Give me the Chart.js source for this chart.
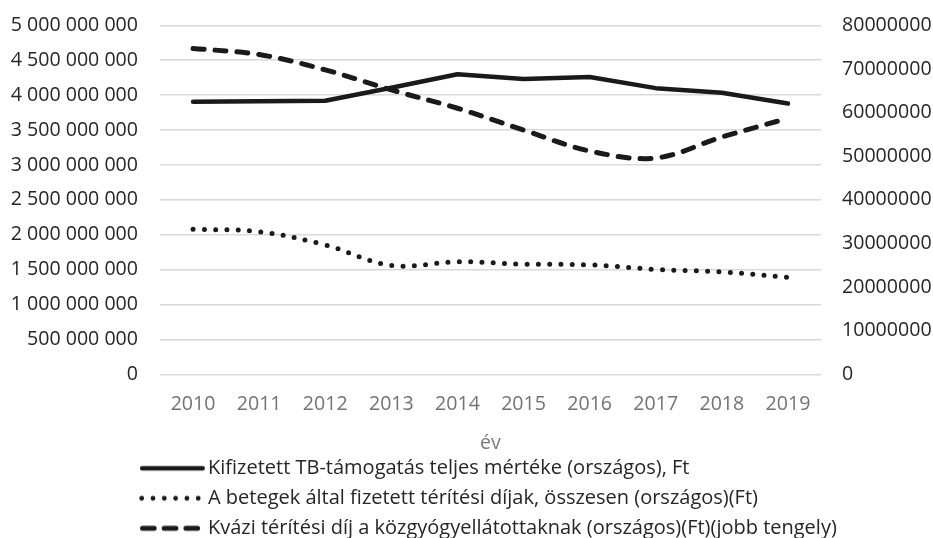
<!DOCTYPE html>
<html>
<head>
<meta charset="utf-8">
<script src="https://cdn.jsdelivr.net/npm/chart.js@4/dist/chart.umd.min.js"></script>
<style>
  html, body { margin: 0; padding: 0; background: #ffffff; }
  #wrap { width: 933px; height: 538px; }
</style>
</head>
<body>
<div id="wrap"><canvas id="c" width="933" height="538"></canvas></div>
<script>
// ---- data ----
const years = ['2010','2011','2012','2013','2014','2015','2016','2017','2018','2019'];
const tbSupport = [3.906e9, 3.912e9, 3.92e9, 4.105e9, 4.30e9, 4.23e9, 4.26e9, 4.10e9, 4.035e9, 3.88e9];
const patientFees = [2.08e9, 2.045e9, 1.855e9, 1.56e9, 1.615e9, 1.58e9, 1.57e9, 1.505e9, 1.47e9, 1.39e9];
const quasiFees = [74.7e6, 73.3e6, 69.8e6, 65.2e6, 61.0e6, 56.0e6, 51.2e6, 49.6e6, 54.4e6, 58.7e6];
const seriesNames = [
  'Kifizetett TB-támogatás teljes mértéke (országos), Ft',
  'A betegek által fizetett térítési díjak, összesen (országos)(Ft)',
  'Kvázi térítési díj a közgyógyellátottaknak (országos)(Ft)(jobb tengely)'
];
const leftTickLabels = ['0','500 000 000','1 000 000 000','1 500 000 000','2 000 000 000','2 500 000 000','3 000 000 000','3 500 000 000','4 000 000 000','4 500 000 000','5 000 000 000'];
const rightTickLabels = ['0','10000000','20000000','30000000','40000000','50000000','60000000','70000000','80000000'];
const xAxisTitle = 'év';

const FONT = "'Open Sans', 'DejaVu Sans', sans-serif";
const FS = 19.6;
const LFS = 20;
const INK = '#1a1a1a';

// legend line samples (small canvases used as legend point styles)
function sample(kind) {
  const c = document.createElement('canvas');
  c.width = 72; c.height = 10;
  const g = c.getContext('2d');
  g.strokeStyle = INK; g.fillStyle = INK; g.lineCap = 'round';
  if (kind === 'solid') {
    g.lineWidth = 4.5;
    g.beginPath(); g.moveTo(9.2, 5); g.lineTo(69.7, 5); g.stroke();
  } else if (kind === 'dot') {
    for (let i = 0; i < 6; i++) {
      g.beginPath(); g.arc(8.7 + i * 11.3, 5, 2.4, 0, Math.PI * 2); g.fill();
    }
  } else {
    g.lineWidth = 5;
    for (let i = 0; i < 3; i++) {
      g.beginPath(); g.moveTo(9.5 + i * 21.7, 5); g.lineTo(21.2 + i * 21.7, 5); g.stroke();
    }
  }
  return c;
}
const legendSamples = [sample('solid'), sample('dot'), sample('dash')];

const legendShift = {
  id: 'legendShift',
  afterLayout(chart) {
    const lg = chart.legend;
    if (lg) { lg.left = 130; lg.top = 448.3; }
  }
};

function noPad(s) { s.paddingTop = 0; s.paddingBottom = 0; }

new Chart(document.getElementById('c'), {
  type: 'line',
  data: {
    labels: years,
    datasets: [
      {
        label: seriesNames[0], data: tbSupport, yAxisID: 'y',
        borderColor: INK, backgroundColor: INK, borderWidth: 4.5,
        borderCapStyle: 'round', borderJoinStyle: 'round', tension: 0,
        pointRadius: 0, pointHoverRadius: 0
      },
      {
        label: seriesNames[1], data: patientFees, yAxisID: 'y',
        borderColor: INK, backgroundColor: INK, borderWidth: 5,
        borderDash: [0, 11.3], borderCapStyle: 'round', borderJoinStyle: 'round',
        tension: 0.35, pointRadius: 0, pointHoverRadius: 0
      },
      {
        label: seriesNames[2], data: quasiFees, yAxisID: 'y1',
        borderColor: INK, backgroundColor: INK, borderWidth: 5,
        borderDash: [11, 11], borderCapStyle: 'round', borderJoinStyle: 'round',
        tension: 0.35, pointRadius: 0, pointHoverRadius: 0
      }
    ]
  },
  options: {
    responsive: false,
    animation: false,
    devicePixelRatio: 1,
    layout: { padding: { top: 25.3, bottom: 0, left: 0, right: 0 } },
    plugins: {
      tooltip: { enabled: false },
      legend: {
        position: 'bottom',
        align: 'start',
        labels: {
          usePointStyle: true,
          pointStyleWidth: 58,
          boxHeight: LFS,
          padding: 10,
          color: '#262626',
          font: { family: FONT, size: LFS },
          generateLabels(chart) {
            const items = Chart.defaults.plugins.legend.labels.generateLabels(chart);
            items.forEach((it, i) => { it.pointStyle = legendSamples[i]; });
            return items;
          }
        }
      }
    },
    scales: {
      x: {
        offset: true,
        grid: { display: false, drawTicks: false, offset: true },
        border: { display: false },
        ticks: { color: '#737373', padding: 18, font: { family: FONT, size: FS }, maxRotation: 0 },
        title: { display: true, text: xAxisTitle, color: '#7a7a7a', padding: { top: 0, bottom: -15 }, font: { family: FONT, size: FS, lineHeight: 1 } },
        afterFit(s) { s.height = 63.5; }
      },
      y: {
        position: 'left', min: 0, max: 5e9,
        grid: { color: '#d9d9d9', lineWidth: 1.5, drawTicks: false },
        border: { display: false },
        ticks: {
          stepSize: 5e8, padding: 22, color: '#262626',
          font: { family: FONT, size: FS },
          callback: (v, i) => leftTickLabels[i]
        },
        afterFit(s) { s.width = 160; noPad(s); }
      },
      y1: {
        position: 'right', min: 0, max: 8e7,
        grid: { display: false, drawTicks: false },
        border: { display: false },
        ticks: {
          stepSize: 1e7, padding: 21, color: '#262626',
          font: { family: FONT, size: FS },
          callback: (v, i) => rightTickLabels[i]
        },
        afterFit(s) { s.width = 112; noPad(s); }
      }
    }
  },
  plugins: [legendShift]
});
</script>
</body>
</html>
